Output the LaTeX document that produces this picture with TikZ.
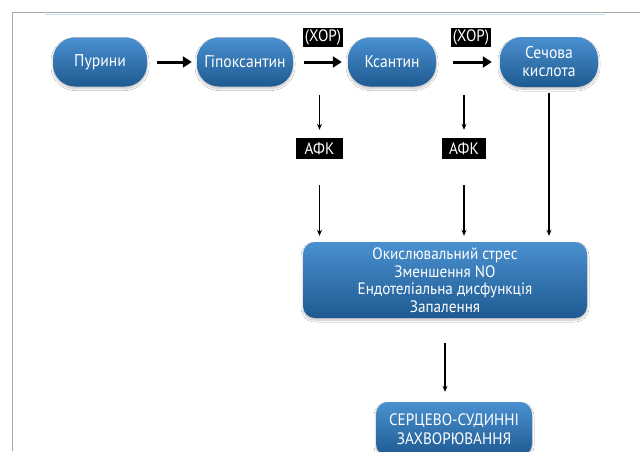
\documentclass[tikz,border=0pt]{standalone}
\usepackage{fontspec}
\setmainfont[FakeStretch=0.92]{PT Sans}
\usetikzlibrary{shadows.blur,arrows.meta}
\definecolor{boxtop}{HTML}{4A90D0}
\definecolor{boxbot}{HTML}{1E5A91}
\definecolor{framegray}{HTML}{A8A8A8}
\definecolor{framelight}{HTML}{C9DDEB}
\tikzset{
  bluebox/.style={rectangle, top color=boxtop, bottom color=boxbot, draw=none,
    text=white, align=center, inner sep=2pt,
    blur shadow={shadow blur steps=10, shadow blur extra rounding=3pt, shadow xshift=0pt, shadow yshift=-2pt, shadow opacity=25}},
  pill/.style={bluebox, rounded corners=22pt, minimum width=94pt, minimum height=49pt,
    font=\fontsize{17}{18}\selectfont},
  bigbox/.style={bluebox, rounded corners=12pt, font=\fontsize{16.5}{17.5}\selectfont},
  blacklbl/.style={rectangle, fill=black, text=white, inner sep=1pt,
    font=\fontsize{16.5}{17}\selectfont},
  thickarr/.style={line width=3pt, -{Triangle[length=9pt,width=11pt]}},
  thinarr/.style={line width=1.2pt, -{Stealth[length=6pt,width=5pt]}},
}
\begin{document}
\begin{tikzpicture}[x=1pt,y=-1pt]
\useasboundingbox (0,0) rectangle (640,451);
\fill[white] (0,0) rectangle (640,451);
% frame
\draw[framegray, line width=1pt] (12,451) -- (12,12) -- (640,12);
\draw[framelight, line width=1.2pt] (45,14.5) -- (605,14.5);

% top row
\node[pill] (pur) at (100,62) {Пурини};
\node[pill, minimum width=96pt] (hyp) at (245,62) {Гіпоксантин};
\node[pill, minimum width=88pt] (xan) at (392,62) {Ксантин};
\node[pill, minimum width=98pt, minimum height=50pt] (ur) at (549,62) {Сечова\\кислота};

\node[blacklbl, minimum width=40pt, minimum height=19pt] (xor1) at (323,37.5) {(ХОР)};
\node[blacklbl, minimum width=40pt, minimum height=19pt] (xor2) at (471,37.5) {(ХОР)};

\draw[thickarr, shorten <=10pt, shorten >=5pt] (pur) -- (hyp);
\draw[thickarr, shorten <=11pt, shorten >=6pt] (hyp) -- (xan);
\draw[thickarr, shorten <=17pt, shorten >=8pt] (xan) -- (ur);

% AFK
\node[blacklbl, minimum width=47pt, minimum height=21pt] (afk1) at (319.5,148.5) {АФК};
\node[blacklbl, minimum width=44pt, minimum height=21pt] (afk2) at (464,148.5) {АФК};

% central box
\node[bigbox, minimum width=284pt, minimum height=76pt] (big) at (445,280)
  {Окислювальний стрес\\Зменшення NO\\Ендотеліальна дисфункція\\Запалення};

% bottom box
\node[bigbox, minimum width=156pt, minimum height=54pt] (cvd) at (454,429)
  {СЕРЦЕВО-СУДИННІ\\[2pt]ЗАХВОРЮВАННЯ};

\coordinate (v1a) at (319.5,95);
\coordinate (v1b) at (319.5,185);
\coordinate (v2a) at (464,95);
\coordinate (v2b) at (464,185);

\draw[thinarr, shorten >=8pt] (v1a) -- (afk1.north);
\draw[thinarr, shorten >=6pt] (v1b) -- (v1b |- big.north);
\draw[thinarr, shorten >=8pt] (v2a) -- (afk2.north);
\draw[thinarr, shorten >=6pt] (v2b) -- (v2b |- big.north);
\draw[thinarr, shorten <=6pt, shorten >=6pt] (ur.south) -- (ur.south |- big.north);
\draw[thinarr, shorten <=25pt, shorten >=10pt] (big.south) -- (big.south |- cvd.north);
\end{tikzpicture}
\end{document}
